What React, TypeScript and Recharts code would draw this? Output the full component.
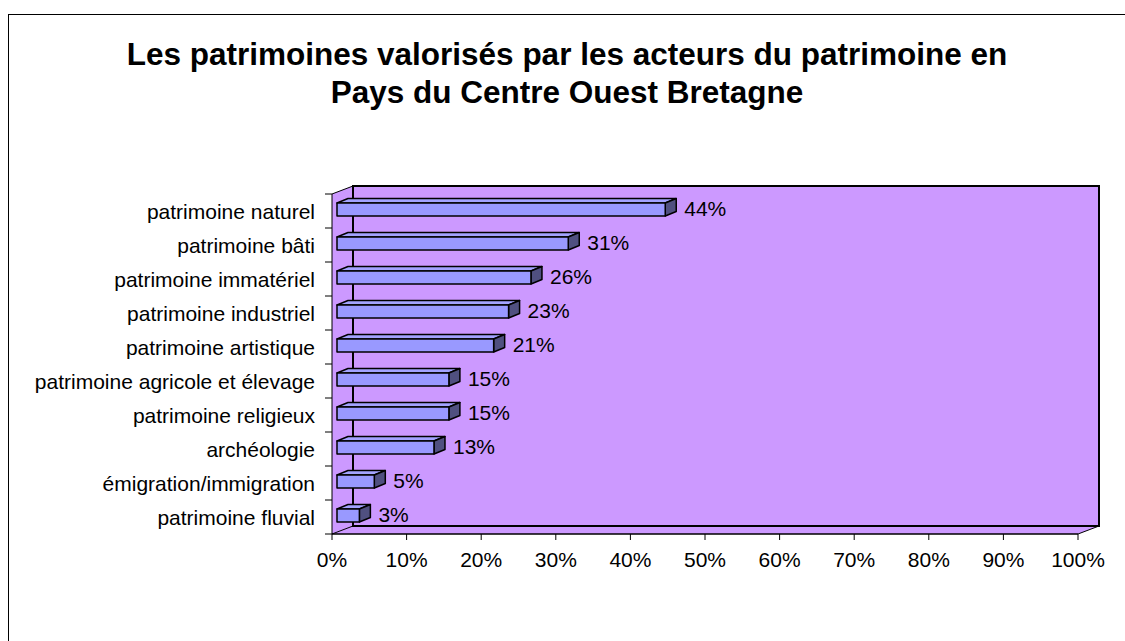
import { BarChart, Bar, XAxis, YAxis, ReferenceArea, LabelList } from 'recharts'

const categories = [
    'patrimoine naturel',
    'patrimoine bâti',
    'patrimoine immatériel',
    'patrimoine industriel',
    'patrimoine artistique',
    'patrimoine agricole et élevage',
    'patrimoine religieux',
    'archéologie',
    'émigration/immigration',
    'patrimoine fluvial',
]
const valeurs = [0.44, 0.31, 0.26, 0.23, 0.21, 0.15, 0.15, 0.13, 0.05, 0.03]
const ticksX = [0, 0.1, 0.2, 0.3, 0.4, 0.5, 0.6, 0.7, 0.8, 0.9, 1]
const titre = ['Les patrimoines valorisés par les acteurs du patrimoine en', 'Pays du Centre Ouest Bretagne']

const data = categories.map((name, i) => ({ name, valeur: valeurs[i] }))

const FONT = "Arial, 'Liberation Sans', sans-serif"
const MUR = '#CC99FF'
const FACE = '#9999FF'
const DESSUS = '#A3A3FF'
const COTE = '#505080'
// profondeur du mur 3D
const PX = 21
const PY = 8
// position et profondeur de la barre
const BX = 5
const BY = 2
const DX = 11
const DY = 4.5

const pct = (v: number) => `${Math.round(v * 100)}%`

function Mur(props: any) {
    const { x, y, width, height } = props
    const L = x
    const R = x + width
    const T = y
    const B = y + height
    const band = height / categories.length
    const bornes = categories.map((_, i) => T + i * band).concat([B])
    return (
        <g>
            <polygon points={`${L},${T} ${L + PX},${T - PY} ${L + PX},${B - PY} ${L},${B}`} fill={MUR} stroke="none" />
            <polygon points={`${L},${B} ${L + PX},${B - PY} ${R + PX},${B - PY} ${R},${B}`} fill={MUR} stroke="#000" strokeWidth={1} />
            <rect x={L + PX} y={T - PY} width={width} height={height} fill={MUR} stroke="#000" strokeWidth={2} />
            <line x1={L} y1={T} x2={L + PX} y2={T - PY} stroke="#000" strokeWidth={1} />
            <line x1={L} y1={T} x2={L} y2={B} stroke="#000" strokeWidth={1} />
            {bornes.map((by, i) => (
                <line key={i} x1={L - 7} y1={by} x2={L} y2={by} stroke="#000" strokeWidth={1} />
            ))}
        </g>
    )
}

function Barre3D(props: any) {
    const { x, y, width, height } = props
    if (!width) return null
    const fx = x + BX
    const fy = y - BY
    const w = width
    const h = height
    return (
        <g stroke="#000" strokeWidth={1.5} strokeLinejoin="round">
            <polygon points={`${fx},${fy} ${fx + DX},${fy - DY} ${fx + w + DX},${fy - DY} ${fx + w},${fy}`} fill={DESSUS} />
            <polygon points={`${fx + w},${fy} ${fx + w + DX},${fy - DY} ${fx + w + DX},${fy - DY + h} ${fx + w},${fy + h}`} fill={COTE} />
            <rect x={fx} y={fy} width={w} height={h} fill={FACE} />
        </g>
    )
}

function Etiquette(props: any) {
    const { x, y, width, height, value } = props
    return (
        <text x={x + width + BX + DX + 8} y={y + height / 2 - BY - 1} dy="0.36em" fontSize={21} fontFamily={FONT} fill="#000">
            {pct(value)}
        </text>
    )
}

function TickCategorie(props: any) {
    const { x, y, payload } = props
    return (
        <text x={x} y={y} dy="0.36em" textAnchor="end" fontSize={21} fontFamily={FONT} fill="#000">
            {payload.value}
        </text>
    )
}

export default function App() {
    return (
        <div style={{ position: 'absolute', left: 0, top: 0, width: 1125, height: 641, background: '#fff', overflow: 'hidden' }}>
            <div style={{ position: 'absolute', left: 8, top: 14, width: 1200, height: 700, border: '1.5px solid #000', boxSizing: 'border-box' }} />
            <div style={{ position: 'absolute', left: 0, top: 35, width: 1134, textAlign: 'center', fontFamily: FONT, fontWeight: 'bold', fontSize: 31.5, lineHeight: '38px', color: '#000' }}>
                {titre.map((t) => (
                    <div key={t}>{t}</div>
                ))}
            </div>
            <div style={{ position: 'absolute', left: 0, top: 0 }}>
                <BarChart
                    width={1125}
                    height={641}
                    data={data}
                    layout="vertical"
                    margin={{ top: 194, right: 47, bottom: 67, left: 12 }}
                    barSize={13}
                >
                    <ReferenceArea x1={0} x2={1} shape={Mur} ifOverflow="visible" />
                    <XAxis
                        type="number"
                        domain={[0, 1]}
                        ticks={ticksX}
                        tickFormatter={pct}
                        height={40}
                        axisLine={{ stroke: '#000' }}
                        tickLine={{ stroke: '#000' }}
                        tickSize={6}
                        tickMargin={12}
                        tick={{ fill: '#000', fontSize: 21, fontFamily: FONT }}
                        interval={0}
                    />
                    <YAxis
                        type="category"
                        dataKey="name"
                        width={320}
                        axisLine={false}
                        tickLine={false}
                        tickSize={0}
                        tickMargin={17}
                        tick={<TickCategorie />}
                        interval={0}
                    />
                    <Bar dataKey="valeur" shape={<Barre3D />} isAnimationActive={false}>
                        <LabelList dataKey="valeur" content={<Etiquette />} />
                    </Bar>
                </BarChart>
            </div>
        </div>
    )
}
